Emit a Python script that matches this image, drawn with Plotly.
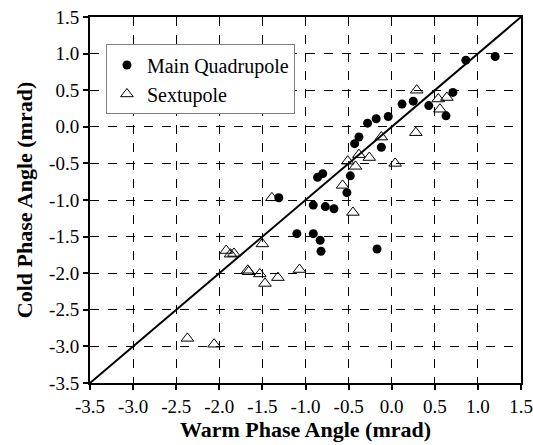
import plotly.graph_objects as go

# Main Quadrupole data (warm, cold) in mrad
quad_warm = [1.20, 0.86, 0.71, 0.43, 0.63, 0.25, 0.12, -0.04, -0.18, -0.28, -0.38, -0.43, -0.12,
             -0.48, -0.52, -0.80, -0.86, -1.31, -0.91, -0.77, -0.67, -1.10, -0.91, -0.83, -0.82, -0.17]
quad_cold = [0.96, 0.91, 0.47, 0.29, 0.15, 0.35, 0.31, 0.14, 0.11, 0.05, -0.14, -0.23, -0.28,
             -0.67, -0.90, -0.64, -0.69, -0.97, -1.07, -1.09, -1.12, -1.46, -1.46, -1.55, -1.70, -1.67]

# Sextupole data
sext_warm = [0.29, 0.54, 0.64, 0.56, 0.28, -0.12, 0.04, -0.26, -0.38, -0.51, -0.42, -0.57, -0.45,
             -1.39, -1.50, -1.92, -1.87, -1.83, -1.67, -1.66, -1.53, -1.47, -1.32, -1.07, -2.37, -2.06]
sext_cold = [0.50, 0.38, 0.40, 0.24, -0.08, -0.14, -0.50, -0.42, -0.38, -0.47, -0.54, -0.80, -1.17,
             -0.97, -1.60, -1.69, -1.74, -1.73, -1.96, -1.98, -2.01, -2.14, -2.06, -1.95, -2.89, -2.97]

# Identity line endpoints
line_xy = [-3.5, 1.5]

tick_vals = [-3.5, -3.0, -2.5, -2.0, -1.5, -1.0, -0.5, 0.0, 0.5, 1.0, 1.5]
tick_text = ["-3.5", "-3.0", "-2.5", "-2.0", "-1.5", "-1.0", "-0.5", "0.0", "0.5", "1.0", "1.5"]

FONT = "Liberation Serif"

fig = go.Figure()
fig.add_trace(go.Scatter(x=line_xy, y=line_xy, mode="lines",
                         line=dict(color="black", width=2), showlegend=False, hoverinfo="skip"))
fig.add_trace(go.Scatter(x=quad_warm, y=quad_cold, mode="markers", name="Main Quadrupole",
                         marker=dict(symbol="circle", size=9, color="black")))
fig.add_trace(go.Scatter(x=sext_warm, y=sext_cold, mode="markers", name="Sextupole",
                         marker=dict(symbol="triangle-up-open", size=11, color="black",
                                     line=dict(width=1, color="black"))))

axis_common = dict(
    range=[-3.5, 1.5], tickvals=tick_vals, ticktext=tick_text,
    showline=True, linecolor="black", linewidth=2, mirror=True,
    ticks="outside", ticklen=5, tickwidth=1.5, tickcolor="black",
    showgrid=True, gridcolor="black", gridwidth=1, griddash="dash",
    zeroline=False, tickfont=dict(family=FONT, size=19, color="black"),
    automargin=False,
)

fig.update_layout(
    width=533, height=445,
    margin=dict(l=90, r=12, t=17, b=62),
    paper_bgcolor="white", plot_bgcolor="white",
    font=dict(family=FONT, color="black"),
    xaxis=dict(**axis_common,
               title=dict(text="<b>Warm Phase Angle (mrad)</b>",
                          font=dict(family=FONT, size=22, color="black"), standoff=4)),
    yaxis=dict(**axis_common,
               title=dict(text="<b>Cold Phase Angle (mrad)</b>",
                          font=dict(family=FONT, size=22, color="black"), standoff=10)),
    legend=dict(x=0.037, y=0.925, xanchor="left", yanchor="top",
                bgcolor="white", bordercolor="#808080", borderwidth=1,
                font=dict(family=FONT, size=20, color="black")),
)

fig.write_html("out.html")
